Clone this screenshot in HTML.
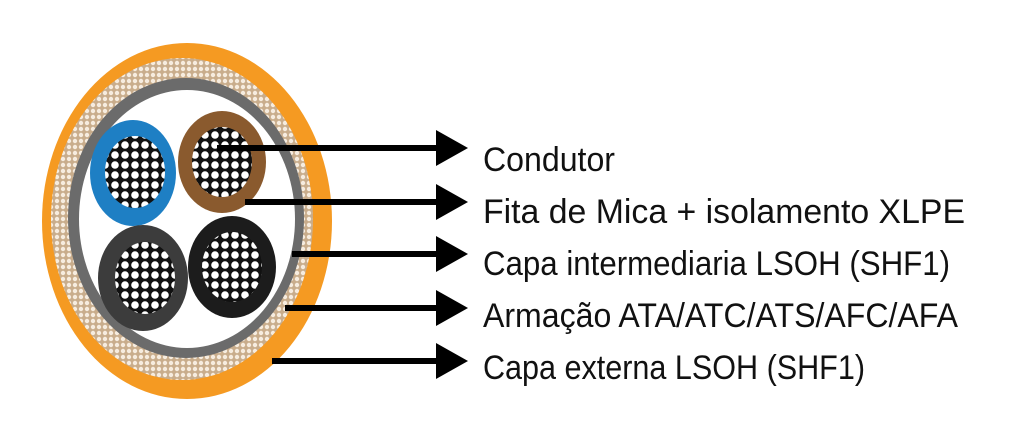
<!DOCTYPE html>
<html><head><style>html,body{margin:0;padding:0;background:#fff}svg{display:block}</style></head><body>
<svg width="1024" height="422" xmlns="http://www.w3.org/2000/svg">
<defs>
<pattern id="dots" width="10" height="10" patternUnits="userSpaceOnUse">
<rect width="10" height="10" fill="#111"/>
<circle cx="5" cy="5" r="3.8" fill="#fff"/>
</pattern>
<pattern id="braid" width="6" height="6" patternUnits="userSpaceOnUse">
<rect width="6" height="6" fill="#c9ad8c"/>
<circle cx="3" cy="3" r="2.2" fill="#f6ecdf"/>
</pattern>
</defs>
<rect width="1024" height="422" fill="#fff"/>
<ellipse cx="187" cy="221" rx="145" ry="178" fill="#f59a22"/>
<ellipse cx="182" cy="219" rx="131" ry="161" fill="url(#braid)"/>
<ellipse cx="186" cy="218" rx="118" ry="140" fill="#6b6b6b"/>
<ellipse cx="187" cy="219" rx="108" ry="129" fill="#fff"/>
<ellipse cx="133" cy="173" rx="43" ry="53" fill="#1e7fc4"/>
<ellipse cx="135" cy="172" rx="30" ry="36" fill="url(#dots)"/>
<ellipse cx="222" cy="162" rx="44" ry="51" fill="#8a5a2e"/>
<ellipse cx="222" cy="162" rx="30" ry="35" fill="url(#dots)"/>
<ellipse cx="143" cy="278" rx="45" ry="53" fill="#3c3c3c"/>
<ellipse cx="145" cy="278" rx="30" ry="36" fill="url(#dots)"/>
<ellipse cx="232" cy="267" rx="44" ry="51" fill="#1c1c1c"/>
<ellipse cx="232" cy="267" rx="30" ry="35" fill="url(#dots)"/>
<g fill="#000">
<rect x="217" y="145" width="222" height="6"/><polygon points="436,130 468,148 436,166"/>
<rect x="245" y="199" width="194" height="6"/><polygon points="436,184 468,202 436,220"/>
<rect x="292" y="251" width="147" height="6"/><polygon points="436,236 468,254 436,272"/>
<rect x="285" y="305" width="154" height="6"/><polygon points="436,290 468,308 436,326"/>
<rect x="272" y="358" width="167" height="6"/><polygon points="436,343 468,361 436,379"/>
</g>
<g font-family="Liberation Sans, sans-serif" font-size="34" fill="#111">
<text x="483" y="171" textLength="132" lengthAdjust="spacingAndGlyphs">Condutor</text>
<text x="483" y="223" textLength="482" lengthAdjust="spacingAndGlyphs">Fita de Mica + isolamento XLPE</text>
<text x="483" y="275" textLength="467" lengthAdjust="spacingAndGlyphs">Capa intermediaria LSOH (SHF1)</text>
<text x="483" y="327" textLength="475" lengthAdjust="spacingAndGlyphs">Armação ATA/ATC/ATS/AFC/AFA</text>
<text x="483" y="379" textLength="382" lengthAdjust="spacingAndGlyphs">Capa externa LSOH (SHF1)</text>
</g>
</svg>
</body></html>
